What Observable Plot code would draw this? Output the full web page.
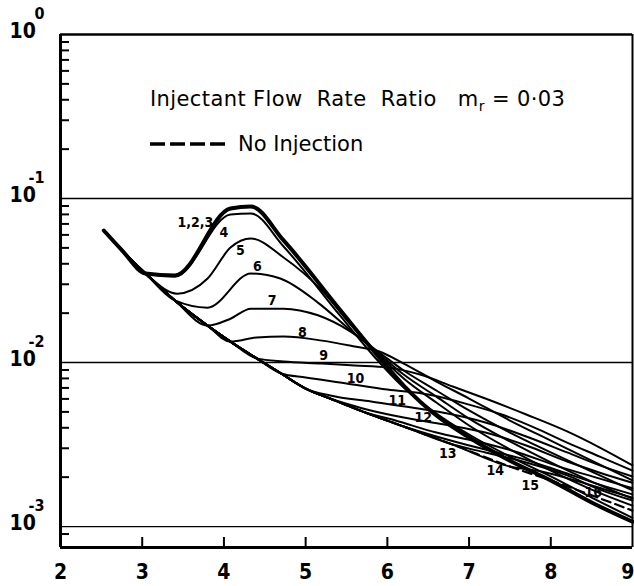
<!DOCTYPE html>
<html><head><meta charset="utf-8">
<script src="https://cdn.jsdelivr.net/npm/d3@7"></script>
<script src="https://cdn.jsdelivr.net/npm/@observablehq/plot@0.6"></script>
<style>body{margin:0;background:#fff} svg{display:block}</style>
</head><body><div id="chart"></div>
<script>
// ---- data ----
const xTicks = [2, 3, 4, 5, 6, 7, 8, 9];
const decades = [1, 0.1, 0.01, 0.001];
const decadeExp = ["0", "-1", "-2", "-3"];

// no injection (dashed) curve
const base = [[2.53,0.0638],[2.75,0.0485],[3.04,0.0349],[3.4,0.0239],[3.8,0.0168],[4.08,0.0134],[4.4,0.0106],[4.7,0.00857],[5.0,0.00694],[5.3,0.00603],[5.7,0.00502],[6.2,0.00407],[6.8,0.00316],[7.5,0.00232],[8.0,0.00191],[8.5,0.00155],[9.0,0.00125]];

// each curve's own points (it follows the base curve before its first point)
const c123 = [[3.04,0.0349],[3.4,0.0339],[4.08,0.0869],[4.33,0.0894],[4.73,0.0555],[5.43,0.0207],[5.83,0.0118],[6.2,0.00724],[6.6,0.00475],[7.0,0.00349],[7.5,0.00252],[8.0,0.00191],[8.5,0.00140],[9.0,0.00107]];
const c4 = [[3.04,0.0349],[3.4,0.0335],[4.08,0.0799],[4.33,0.0811],[4.73,0.0510],[5.43,0.0191],[5.83,0.0110],[6.2,0.00704],[6.6,0.00489],[7.0,0.00364],[7.5,0.00267],[8.0,0.00202],[8.5,0.00150],[9.0,0.00113]];
const c5 = [[3.04,0.0349],[3.43,0.0263],[3.8,0.0325],[4.08,0.0502],[4.33,0.0570],[4.73,0.0437],[5.2,0.0275],[5.55,0.0171],[5.85,0.0118],[6.2,0.00799],[6.6,0.00570],[7.0,0.00413],[7.5,0.00295],[8.0,0.00219],[8.5,0.00168],[9.0,0.00134]];
const c6 = [[3.4,0.0239],[3.8,0.0216],[4.33,0.0349],[4.69,0.0325],[5.15,0.0232],[5.55,0.0157],[5.88,0.01151],[6.2,0.00845],[6.6,0.00620],[7.0,0.00455],[7.5,0.00330],[8.0,0.00246],[8.5,0.00188],[9.0,0.00148]];
const c7 = [[3.8,0.0168],[4.08,0.0185],[4.33,0.0213],[4.73,0.0213],[5.15,0.0194],[5.55,0.01545],[5.9,0.01151],[6.2,0.00894],[6.6,0.00675],[7.0,0.00510],[7.5,0.00374],[8.0,0.00283],[8.5,0.00216],[9.0,0.00166]];
const c8 = [[4.08,0.0134],[4.4,0.0142],[4.73,0.0144],[5.2,0.0136],[5.6,0.01252],[5.9,0.01167],[6.2,0.00986],[6.6,0.00766],[7.0,0.00603],[7.5,0.00443],[8.0,0.00334],[8.5,0.00252],[9.0,0.00191]];
const c9 = [[4.4,0.0106],[4.73,0.01014],[5.2,0.00986],[5.6,0.00959],[6.0,0.00933],[6.4,0.00845],[6.8,0.00714],[7.2,0.00603],[7.7,0.00482],[8.2,0.00380],[8.6,0.00303],[9.0,0.00236]];
const c10 = [[4.7,0.00857],[5.0,0.00810],[5.5,0.00745],[6.0,0.00684],[6.5,0.00638],[7.0,0.00554],[7.4,0.00482],[7.8,0.00401],[8.2,0.00325],[8.6,0.00267],[9.0,0.00219]];
const c11 = [[5.0,0.00694],[5.3,0.00629],[5.8,0.00578],[6.3,0.00532],[6.8,0.00482],[7.2,0.00431],[7.7,0.00354],[8.2,0.00283],[8.6,0.00236],[9.0,0.00202]];
const c12 = [[5.3,0.00603],[5.7,0.00525],[6.2,0.00462],[6.7,0.00419],[7.2,0.00374],[7.7,0.00312],[8.2,0.00249],[8.6,0.00213],[9.0,0.00185]];
const c13 = [[5.7,0.00502],[6.1,0.00443],[6.6,0.00374],[7.1,0.00330],[7.6,0.00283],[8.1,0.00232],[8.6,0.00196],[9.0,0.00171]];
const c14 = [[6.2,0.00407],[6.6,0.00354],[7.1,0.00303],[7.6,0.00263],[8.1,0.00219],[8.6,0.00180],[9.0,0.00157]];
const c15 = [[6.8,0.00316],[7.2,0.00283],[7.7,0.00246],[8.2,0.00205],[8.6,0.00168],[9.0,0.00144]];
const c16 = [[7.5,0.00232],[7.9,0.00216],[8.3,0.00191],[8.7,0.00166],[9.0,0.00150]];

const labelText = ["1,2,3","4","5","6","7","8","9","10","11","12","13","14","15","16"];
const labelX = [3.65,4.0,4.2,4.41,4.59,4.96,5.22,5.61,6.12,6.44,6.74,7.32,7.75,8.52];
const labelY = [0.0714,0.0620,0.0482,0.0385,0.0239,0.0152,0.0110,0.00799,0.00586,0.00462,0.00279,0.00219,0.00178,0.00161];

// ---- build tables ----
const W = 634, H = 586, mL = 60, mR = 2, mT = 34, mB = 39;
const frameW = W - mL - mR, frameH = H - mT - mB;
const yMin = 7.45e-4;

function withBase(id, pts) {
  const first = pts[0][0];
  return [...base.filter(p => p[0] < first), ...pts].map(p => ({id, x: p[0], y: p[1]}));
}
const thinCurves = [["4",c4],["5",c5],["6",c6],["7",c7],["8",c8],["9",c9],["10",c10],["11",c11],["12",c12],["13",c13],["14",c14],["15",c15],["16",c16]]
  .flatMap(([id, pts]) => withBase(id, pts));
const thickCurve = withBase("1,2,3", c123);
const baseRows = base.map(p => ({x: p[0], y: p[1]}));
const labels = labelText.map((t, i) => ({t, x: labelX[i], y: labelY[i]}));

const minorTicks = [];
[-4, -3, -2, -1].forEach(k => { for (let m = 2; m <= 9; m++) { const v = m * Math.pow(10, k); if (v >= 9e-4 && v < 1) minorTicks.push(v); } });

const font = "DejaVu Sans";
const narrow = "'Liberation Sans Narrow', 'DejaVu Sans Condensed', 'DejaVu Sans'";
const tickTextOpts = {frameAnchor: "bottom", dy: 31, fontSize: 21, fontWeight: "bold", fill: "#000", fontFamily: narrow};
const chart = Plot.plot({
  width: W, height: H,
  marginLeft: mL, marginRight: mR, marginTop: mT, marginBottom: mB,
  style: {fontFamily: font, background: "#fff", color: "#000"},
  x: {domain: [2, 9], axis: null},
  y: {type: "log", domain: [yMin, 1], axis: null},
  marks: [
    Plot.ruleY(decades.slice(1), {stroke: "#000", strokeWidth: 1.3}),
    Plot.ruleY(minorTicks, {stroke: "#000", strokeWidth: 2, insetRight: frameW - 9}),
    Plot.ruleX(xTicks.slice(1, -1), {stroke: "#000", strokeWidth: 2, insetTop: frameH - 10}),
    Plot.ruleY([1], {stroke: "#000", strokeWidth: 2.5}),
    Plot.ruleY([yMin], {stroke: "#000", strokeWidth: 3}),
    Plot.ruleX([2], {stroke: "#000", strokeWidth: 3}),
    Plot.ruleX([9], {stroke: "#000", strokeWidth: 2}),
    Plot.line(baseRows, {x: "x", y: "y", stroke: "#000", strokeWidth: 2.2, strokeDasharray: "9,5", curve: "monotone-x"}),
    Plot.line(thinCurves, {x: "x", y: "y", z: "id", stroke: "#000", strokeWidth: 2, curve: "monotone-x"}),
    Plot.line(thickCurve, {x: "x", y: "y", stroke: "#000", strokeWidth: 4, curve: "monotone-x"}),
    Plot.text(labels, {x: "x", y: "y", text: "t", fontSize: 14, fontWeight: "bold", fill: "#000", fontFamily: narrow}),
    Plot.text(xTicks.slice(0, -1), {x: d => d, text: d => String(d), ...tickTextOpts}),
    Plot.text(xTicks.slice(-1), {x: d => d, text: d => String(d), textAnchor: "end", dx: 2, ...tickTextOpts}),
    Plot.text(decades, {y: d => d, text: () => "10", frameAnchor: "left", dx: -51, dy: -3, textAnchor: "start", fontSize: 21, fontWeight: "bold", fill: "#000", fontFamily: narrow}),
    Plot.text(decades, {y: d => d, text: (d, i) => decadeExp[i], frameAnchor: "left", dx: -16, dy: -21, textAnchor: "end", fontSize: 16, fontWeight: "bold", fill: "#000", fontFamily: narrow})
  ]
});
document.getElementById("chart").appendChild(chart);

// title and legend inside the frame
const svg = d3.select(chart);
const title = svg.append("text").attr("x", 150).attr("y", 106).attr("text-anchor", "start")
  .attr("font-family", font).attr("font-size", 21).attr("letter-spacing", 0.4).attr("fill", "#000").attr("xml:space", "preserve");
title.append("tspan").text("Injectant Flow  Rate  Ratio   m");
title.append("tspan").attr("dy", 5).attr("font-size", 14).text("r");
title.append("tspan").attr("dy", -5).text(" = 0·03");
svg.append("line").attr("x1", 150).attr("x2", 227).attr("y1", 144).attr("y2", 144)
  .attr("stroke", "#000").attr("stroke-width", 3.5).attr("stroke-dasharray", "15,5");
svg.append("text").attr("x", 238).attr("y", 151).attr("text-anchor", "start")
  .attr("font-family", font).attr("font-size", 21).attr("fill", "#000").text("No Injection");
</script>
</body></html>
